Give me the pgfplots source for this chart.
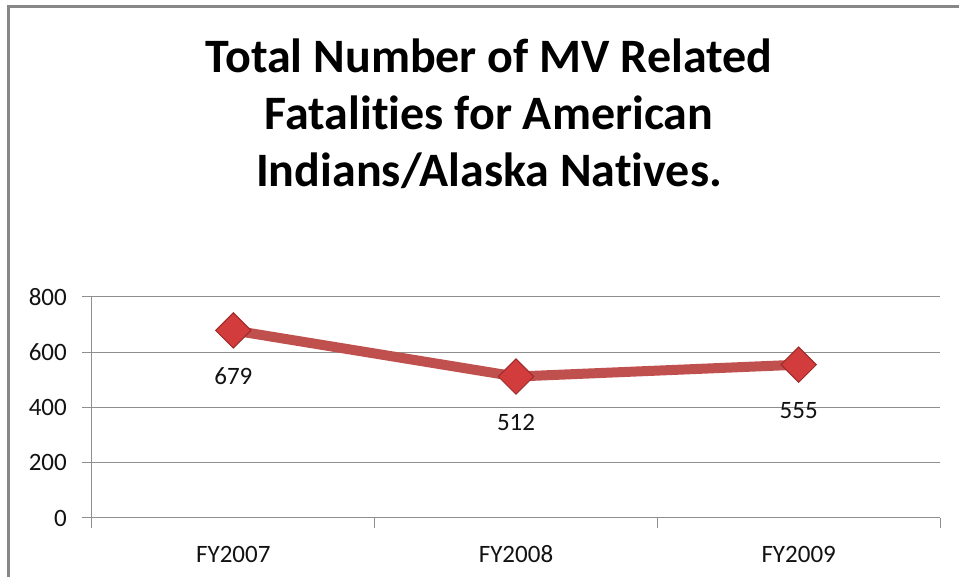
\documentclass[border=0pt]{standalone}
\usepackage{fontspec}
\setmainfont{Carlito}[Ligatures=NoCommon]
\usepackage{pgfplots}
\pgfplotsset{compat=1.18}
\definecolor{ser}{HTML}{C0504D}
\definecolor{mk}{HTML}{D23C3C}
\definecolor{mkd}{HTML}{9E2A2A}
\definecolor{gridc}{HTML}{8E8E8E}
\definecolor{txt}{HTML}{121212}
\begin{document}
\begin{tikzpicture}[x=1bp,y=1bp]
% pixel (px,py) -> (px-92, 518-py)
\clip (-92,-59) rectangle (867,518);
\draw[color=gridc!95!black, line width=3bp] (-83,-80) -- (-83,511) -- (900,511);
\node[font=\fontsize{48bp}{56bp}\selectfont\bfseries, anchor=base] at (397,445) {Total Number of MV Related};
\node[font=\fontsize{48bp}{56bp}\selectfont\bfseries, anchor=base] at (397,388) {Fatalities for American};
\node[font=\fontsize{48bp}{56bp}\selectfont\bfseries, anchor=base] at (397,331) {Indians/Alaska Natives.};
\begin{axis}[
  at={(0,0)}, anchor=origin,
  scale only axis, width=848bp, height=221bp,
  xmin=0.5, xmax=3.5, ymin=0, ymax=800,
  ytick={0,200,400,600,800},
  xtick={1,2,3},
  xticklabels={FY2007,FY2008,FY2009},
  minor xtick={0.5,1.5,2.5,3.5},
  major x tick style={draw=none},
  minor tick length=10bp,
  major tick length=10bp,
  tick align=outside,
  axis x line*=bottom, axis y line*=left,
  axis line style={draw=gridc, line width=1bp, -},
  every tick/.style={draw=gridc, line width=1bp},
  ymajorgrids, grid style={draw=gridc, line width=1bp},
  /pgf/number format/assume math mode=true,
  ticklabel style={font=\fontsize{25bp}{29bp}\selectfont, text=txt, inner sep=0pt},
  yticklabel style={anchor=east, xshift=-15bp},
  xticklabel style={anchor=base, yshift=-35bp},
  clip=false,
  nodes near coords,
  every node near coord/.append style={anchor=base, yshift=-54bp, font=\fontsize{25bp}{29bp}\selectfont, text=txt, inner sep=0pt},
]
\addplot[color=ser, line width=10bp, mark=square*, mark size=12.5bp,
  mark options={rotate=45, fill=mk, draw=mkd, line width=1bp}]
  coordinates {(1,679) (2,512) (3,555)};
\end{axis}
\end{tikzpicture}
\end{document}
